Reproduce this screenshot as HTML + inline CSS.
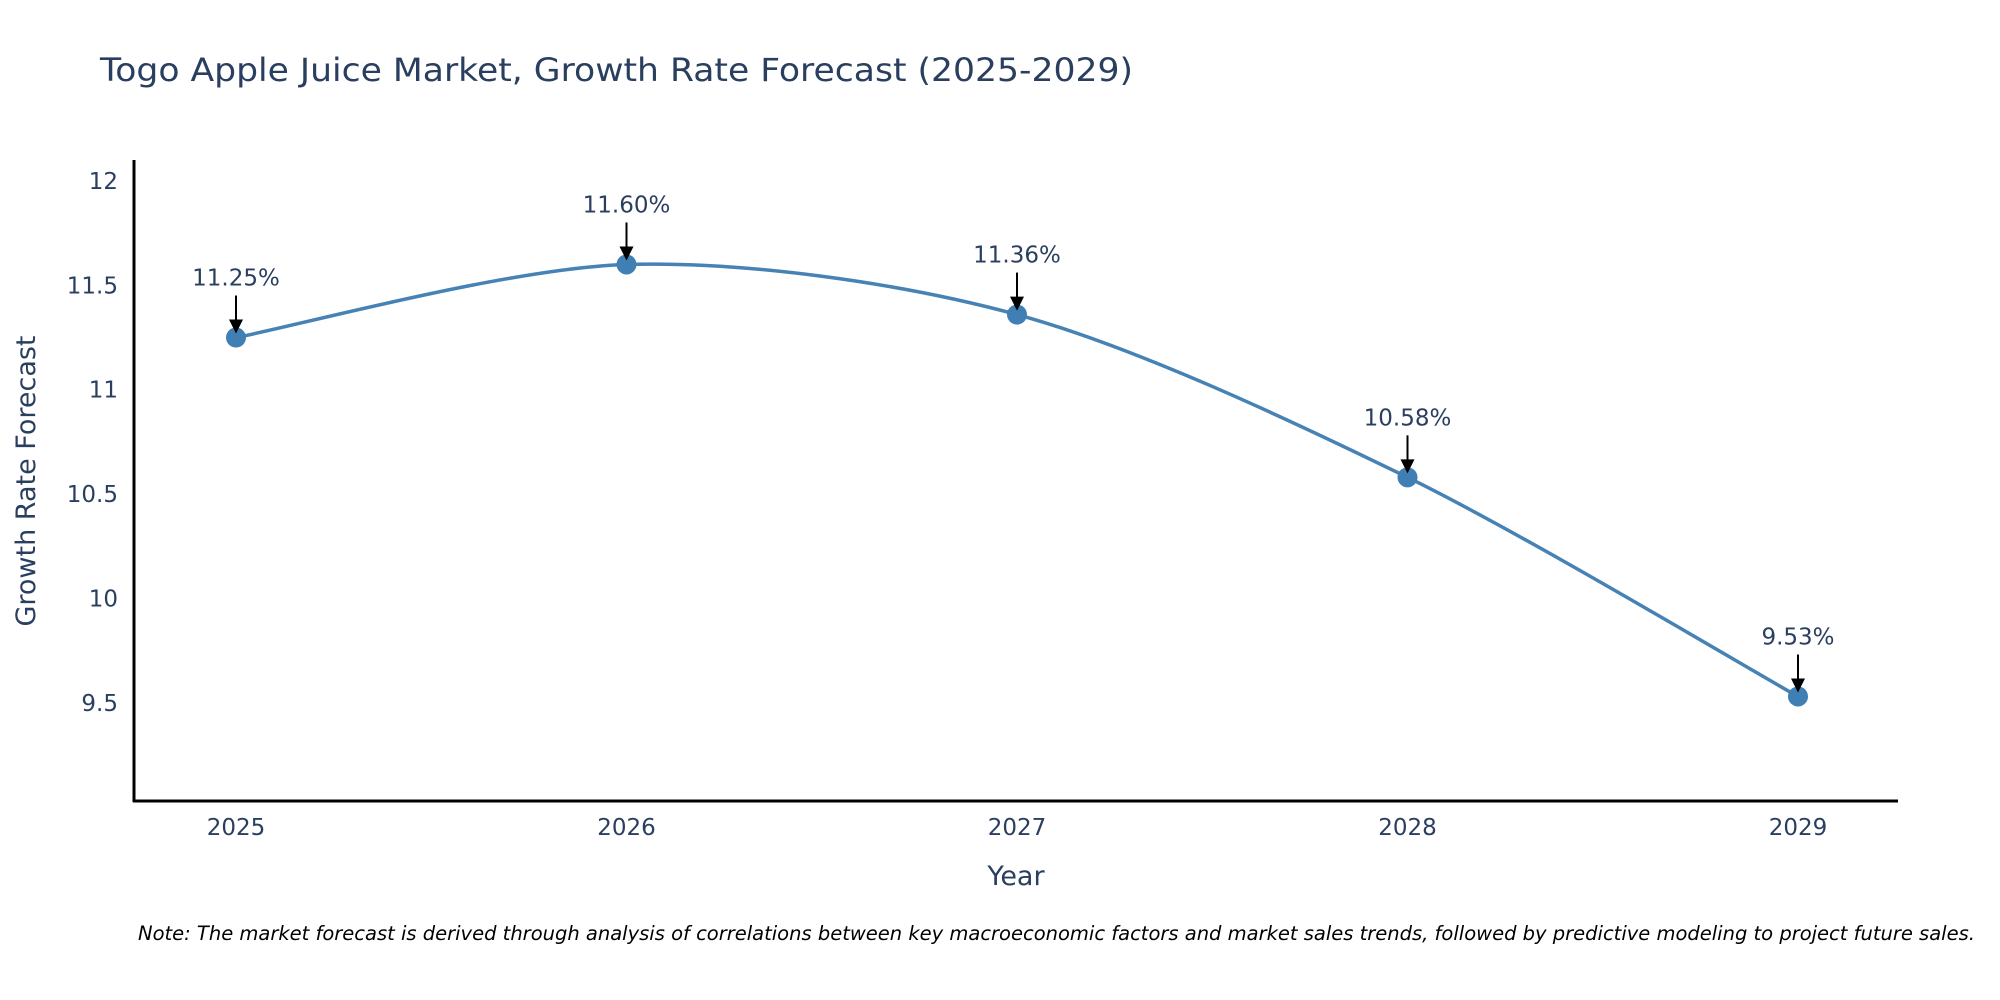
<!DOCTYPE html>
<html><head><meta charset="utf-8"><style>
html,body{margin:0;padding:0;background:#fff;}
svg{display:block;font-family:"DejaVu Sans","Liberation Sans",sans-serif;}
</style></head><body>
<svg id="chart" width="2000" height="1000" viewBox="0 0 2000 1000" xmlns="http://www.w3.org/2000/svg">
<text x="100" y="81" font-size="32" fill="#2a3f5f" textLength="1033" lengthAdjust="spacingAndGlyphs">Togo Apple Juice Market, Growth Rate Forecast (2025-2029)</text>
<g id="yticks"></g><g id="xticks"></g>
<line x1="134" y1="160" x2="134" y2="802" stroke="#000" stroke-width="3"/>
<line x1="133" y1="801" x2="1898" y2="801" stroke="#000" stroke-width="3"/>
<path id="line" fill="none" stroke="#4682b4" stroke-width="3.5"/>
<g id="marks"></g>
<text x="1016" y="885" font-size="27" fill="#2a3f5f" text-anchor="middle">Year</text>
<text transform="translate(35,481) rotate(-90)" font-size="27" fill="#2a3f5f" text-anchor="middle">Growth Rate Forecast</text>
<text x="138" y="940" font-size="19.5" font-style="italic" fill="#000">Note: The market forecast is derived through analysis of correlations between key macroeconomic factors and market sales trends, followed by predictive modeling to project future sales.</text>
</svg>
<script>
const years = [2025, 2026, 2027, 2028, 2029];
const values = [11.25, 11.60, 11.36, 10.58, 9.53];
const labels = ["11.25%", "11.60%", "11.36%", "10.58%", "9.53%"];
const yTickVals = [9.5, 10, 10.5, 11, 11.5, 12];
const yTickText = ["9.5", "10", "10.5", "11", "11.5", "12"];

const NS = "http://www.w3.org/2000/svg";
function xs(v){ return 236 + (v - 2025) * 390.5; }
function ys(v){ return 181 + (12 - v) * 208.7; }
function mk(tag, attrs, parent){ const e=document.createElementNS(NS,tag); for(const k in attrs) e.setAttribute(k, attrs[k]); parent.appendChild(e); return e; }
const yt = document.getElementById('yticks'), xt = document.getElementById('xticks'), marks = document.getElementById('marks');
yTickVals.forEach((v,i)=>{
  const t = mk('text',{x:118,y:ys(v)+8,'font-size':23,fill:'#2a3f5f','text-anchor':'end'},yt);
  
  
  t.textContent = yTickText[i];
});
years.forEach(y=>{
  const t = mk('text',{x:xs(y),y:835,'font-size':23,fill:'#2a3f5f','text-anchor':'middle'},xt);
  
  
  t.textContent = String(y);
});
const pts = years.map((y,i)=>[xs(y), ys(values[i])]);
let d = `M${pts[0][0]},${pts[0][1]}`;
const s = 0.3;
for(let i=0;i<pts.length-1;i++){
  const p0=pts[Math.max(i-1,0)], p1=pts[i], p2=pts[i+1], p3=pts[Math.min(i+2,pts.length-1)];
  const c1=[p1[0]+(p2[0]-p0[0])*s/2, p1[1]+(p2[1]-p0[1])*s/2];
  const c2=[p2[0]-(p3[0]-p1[0])*s/2, p2[1]-(p3[1]-p1[1])*s/2];
  d += ` C${c1[0]},${c1[1]} ${c2[0]},${c2[1]} ${p2[0]},${p2[1]}`;
}
document.getElementById('line').setAttribute('d', d);
pts.forEach((p,i)=>{
  const c = mk('circle',{cx:p[0],cy:p[1],r:10,fill:'#3f7fb3'},marks);
  
  
  const a = mk('line',{x1:p[0],y1:p[1]-42,x2:p[0],y2:p[1]-16,stroke:'#000','stroke-width':2},marks);
  
  
  const h = mk('polygon',{points:`${p[0]-7},${p[1]-18} ${p[0]+7},${p[1]-18} ${p[0]},${p[1]-4}`,fill:'#000'},marks);
  
  
  const t = mk('text',{x:p[0],y:p[1]-52,'font-size':23,fill:'#2a3f5f','text-anchor':'middle'},marks);
  
  
  t.textContent = labels[i];
});
</script>
</body></html>
